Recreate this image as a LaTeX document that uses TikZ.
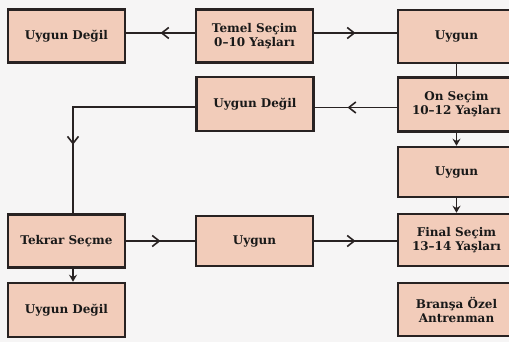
\documentclass[tikz,border=0pt]{standalone}
\usepackage{fontspec}
\setmainfont{DejaVu Serif}
\usetikzlibrary{arrows.meta,decorations.markings}
\definecolor{boxfill}{RGB}{242,204,186}
\definecolor{boxline}{RGB}{40,34,34}
\definecolor{paper}{RGB}{246,245,245}
\begin{document}
\begin{tikzpicture}[x=1pt,y=-1pt,
  box/.style={draw=boxline, line width=2.5pt, fill=boxfill,
    minimum width=117pt, minimum height=53pt, inner sep=0pt,
    align=center, font=\bfseries\fontsize{12}{14}\selectfont, text=black!90},
  conn/.style={draw=boxline, line width=1.5pt},
  midarrow/.style={postaction={decorate}, decoration={markings,
    mark=at position #1 with {\arrow{Straight Barb[length=7pt,width=11pt,line width=1.6pt]}}}},
  midarrow/.default=0.5,
  endarrow/.style={-{Stealth[length=7pt,width=8pt]}}
]
\useasboundingbox (0,0) rectangle (509,342);
\clip (0,0) rectangle (509,342);
\fill[paper] (0,0) rectangle (509,342);

\node[box] (A) at (66.5,36) {Uygun Değil};
\node[box] (B) at (254.5,36) {Temel Seçim\\0–10 Yaşları};
\node[box] (C) at (456.5,36.5) {Uygun};
\node[box, minimum height=54pt] (D) at (255,104) {Uygun Değil};
\node[box, minimum height=54pt] (E) at (456.5,104.5) {On Seçim\\10–12 Yaşları};
\node[box, minimum height=50pt] (F) at (456.5,172) {Uygun};
\node[box] (G) at (66.5,241) {Tekrar Seçme};
\node[box, minimum height=50pt] (H) at (254.5,241) {Uygun};
\node[box, minimum height=52pt] (I) at (456.5,240) {Final Seçim\\13–14 Yaşları};
\node[box, minimum height=54pt] (J) at (66.5,310) {Uygun Değil};
\node[box] (K) at (456.5,309.5) {Branşa Özel\\Antrenman};

\draw[conn, midarrow] ([yshift=3pt]B.west) -- ([yshift=3pt]B.west -| A.east);
\draw[conn, midarrow] ([yshift=3pt]B.east) -- ([yshift=3pt]B.east -| C.west);
\draw[conn] (C.south) -- (E.north);
\draw[conn, midarrow=0.6] ([yshift=-3pt]E.west) -- ([yshift=-3pt]E.west -| D.east);
\draw[conn, midarrow=0.7] ([yshift=-3pt]D.west) -| ([xshift=6.5pt]G.north);
\draw[conn, endarrow] (E.south) -- (F.north);
\draw[conn, endarrow] (F.south) -- (I.north);
\draw[conn, midarrow] (G.east) -- (H.west);
\draw[conn, midarrow] (H.east) -- (H.east -| I.west);
\draw[conn, endarrow] ([xshift=6.5pt]G.south) -- ([xshift=6.5pt]J.north);
\end{tikzpicture}
\end{document}
